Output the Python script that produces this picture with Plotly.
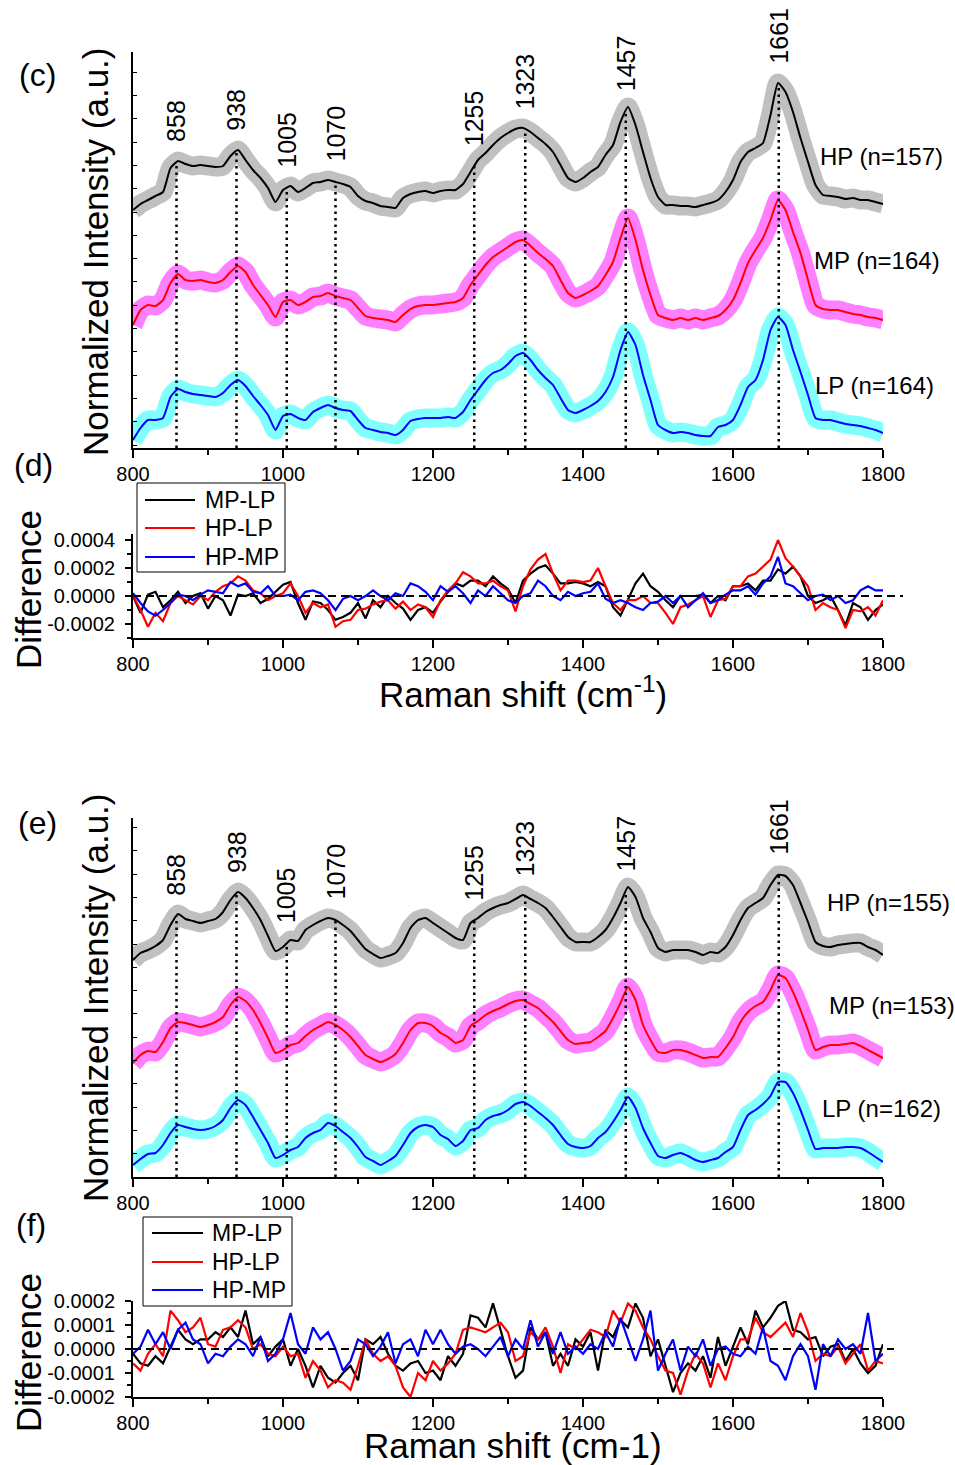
import numpy as np
import plotly.graph_objects as go

W, H = 955, 1465
FONT = "Liberation Sans, Arial, sans-serif"

# ---------------- data ----------------
raman_shift = list(range(800, 1810, 10))

peaks = [858, 938, 1005, 1070, 1255, 1323, 1457, 1661]

# (c) mean spectra, stacked for display (a.u.)
hp_c = [238, 244, 248, 252, 256, 280, 287, 284, 282, 283, 282, 281, 282, 292, 298, 288, 278, 270, 260, 246,
        258, 262, 256, 260, 265, 266, 268, 266, 264, 261, 252, 247, 245, 242, 241, 240, 250, 254, 256, 257,
        255, 257, 258, 258, 264, 276, 288, 295, 303, 310, 315, 319, 320, 316, 310, 304, 296, 283, 270, 266,
        270, 276, 281, 293, 303, 326, 341, 323, 296, 270, 251, 243, 243, 242, 242, 241, 243, 245, 248, 256,
        268, 286, 296, 300, 305, 333, 365, 356, 336, 310, 286, 263, 253, 252, 251, 249, 250, 248, 248, 246,
        244]
mp_c = [123, 138, 143, 142, 148, 165, 174, 168, 167, 168, 166, 165, 168, 176, 182, 176, 163, 153, 143, 131,
        146, 148, 143, 146, 151, 152, 155, 152, 150, 148, 140, 132, 130, 129, 128, 126, 133, 139, 142, 143,
        143, 144, 145, 146, 150, 163, 173, 183, 191, 196, 201, 206, 208, 202, 195, 189, 182, 168, 155, 150,
        153, 157, 162, 173, 186, 210, 230, 208, 178, 153, 133, 130, 128, 130, 128, 130, 128, 130, 132, 138,
        148, 165, 185, 198, 210, 228, 248, 238, 216, 195, 168, 143, 139, 138, 138, 136, 134, 133, 131, 130,
        128]
lp_c = [8, 20, 28, 28, 30, 51, 59, 56, 54, 53, 52, 51, 55, 63, 68, 62, 52, 43, 33, 18,
        32, 34, 30, 28, 36, 40, 43, 40, 38, 37, 28, 20, 18, 16, 15, 13, 18, 27, 29, 30,
        30, 30, 31, 30, 36, 48, 58, 68, 75, 78, 84, 92, 95, 88, 78, 70, 63, 50, 38, 35,
        38, 42, 47, 56, 71, 98, 116, 103, 73, 48, 23, 18, 15, 16, 15, 13, 12, 12, 21, 23,
        28, 43, 61, 68, 88, 118, 131, 123, 98, 76, 53, 30, 28, 28, 26, 24, 23, 22, 20, 18,
        15]

# (d) difference spectra, units of 1e-4
mp_lp_d = [0, -1.2, 0.1, 0.3, -0.8, -0.3, 0.3, -0.5, 0, 0.2, -0.9, 0, -0.3, -1.4, 0.1, 0, 0.2, -0.5, -0.2, 0.3,
           0.8, 1.0, -0.5, -1.7, -0.4, -0.5, -1.0, -1.7, -1.5, -1.2, -0.5, -1.6, -0.3, -0.8, 0, -0.5, -0.9, -1.7, -1.0, -0.8,
           -1.2, -0.4, 0.3, 0.9, 0.7, 1.1, 1.1, 0.7, 1.4, 0.9, 0.5, -0.5, 1.1, 1.6, 2.0, 2.2, 1.6, 0.9, 0.9, 1.0,
           0.9, 0.7, 1.0, 0.7, -0.8, -1.4, -0.3, 0.9, 1.6, 0.7, 0.3, -0.3, -0.8, 0, 0, 0, 0.1, -0.5, 0, -0.3,
           0.7, 0.7, 0.9, 0.4, 1.1, 1.1, 1.9, 1.6, 2.1, 1.4, 0, -0.5, -0.3, 0, -1.0, -2.1, -0.5, -0.8, -1.7, -1.0,
           -0.6]
hp_lp_d = [0, -1.0, -2.2, -1.2, -1.8, -0.5, 0, -0.3, -0.6, 0, -0.3, 0.3, 0.7, 0.9, 1.4, 1.1, 0.4, 0.2, -0.3, 0,
           0.2, 0.9, 0, -1.2, -0.5, -0.8, -0.6, -2.2, -1.8, -1.7, -1.0, -0.9, -0.6, -0.4, -0.3, -0.9, -0.4, -1.0, -0.6, -0.8,
           -1.5, -0.3, 0.4, 0.9, 1.7, 1.4, 0.9, 0.9, 1.1, 0.7, 0.4, -1.1, 0.7, 1.9, 2.6, 3.0, 1.6, 0.4, 1.1, 1.1,
           1.0, 1.1, 2.0, 0.7, -0.5, -1.0, -0.3, -0.3, 0, -0.5, -0.5, -1.2, -2.0, -0.8, -0.6, -0.3, 0, -1.5, -0.3, -0.2,
           0.7, 0.7, 1.4, 1.6, 2.1, 2.6, 4.0, 2.7, 2.1, 1.4, 0.7, -1.0, -0.5, -0.8, -1.0, -2.3, -1.0, -1.1, -0.8, -1.4,
           -0.3]
hp_mp_d = [0.2, -0.5, -1.1, -1.4, -1.0, -0.5, 0.1, 0, -0.3, 0.1, 0.4, 0.3, 0.2, 1.0, 0.7, 0.9, 0.3, 0.2, 0.7, 0,
           0, 0.1, -0.3, 0.3, 0.4, 0.2, -0.3, -1.0, -0.2, 0, -0.3, 0, 0.4, 0, -0.3, 0.2, 0, 0.9, 0.7, 0.3,
           -0.3, 0.7, 0.3, 0.7, 0.2, -0.5, 0.4, 0, 0.7, 0.2, -0.3, -0.5, 0, 0.2, 1.1, 0.7, 0, -0.3, 0.3, 0,
           0.2, 0.3, 0.9, -0.2, -0.5, -0.3, -0.5, -0.8, -1.0, -0.5, -0.4, 0, -0.5, 0, -0.8, -0.3, 0.2, -0.5, -0.3, 0.1,
           0.4, 0.4, 0.7, 0.1, 0.9, 1.4, 2.8, 0.9, 0.7, 0.2, -0.3, 0, 0.1, -0.3, 0, -0.5, -0.3, 0.4, 0.7, 0.4,
           0.4]

# (e) mean spectra, stacked for display (a.u.)
hp_e = [217, 224, 227, 231, 237, 252, 263, 258, 256, 254, 256, 258, 265, 277, 285, 279, 269, 257, 241, 226,
        230, 237, 236, 247, 252, 256, 259, 257, 252, 246, 237, 228, 223, 219, 221, 224, 234, 249, 257, 259,
        254, 249, 244, 239, 237, 254, 259, 265, 269, 272, 274, 278, 282, 278, 274, 269, 260, 250, 240, 235,
        235, 235, 240, 247, 259, 274, 290, 280, 259, 245, 229, 225, 227, 227, 227, 225, 222, 225, 224, 230,
        242, 257, 269, 274, 279, 292, 302, 301, 292, 274, 255, 235, 231, 230, 232, 233, 234, 234, 230, 227,
        222]
mp_e = [114, 122, 126, 125, 135, 149, 155, 154, 152, 150, 152, 155, 160, 172, 180, 176, 167, 154, 139, 124,
        127, 132, 134, 141, 147, 151, 155, 152, 147, 140, 131, 122, 118, 115, 118, 123, 134, 147, 154, 154,
        151, 144, 140, 134, 137, 151, 156, 162, 166, 169, 173, 176, 177, 173, 169, 162, 155, 146, 137, 133,
        134, 135, 140, 146, 159, 174, 190, 177, 152, 137, 125, 124, 127, 127, 125, 122, 119, 120, 120, 129,
        140, 155, 165, 171, 175, 187, 202, 199, 185, 167, 147, 127, 130, 132, 132, 133, 134, 131, 127, 123,
        119]
lp_e = [12, 18, 23, 24, 32, 44, 52, 50, 48, 47, 48, 51, 57, 69, 77, 72, 60, 47, 34, 19,
        22, 27, 30, 39, 44, 47, 54, 51, 45, 39, 30, 20, 16, 12, 16, 21, 32, 44, 50, 52,
        50, 42, 38, 31, 36, 47, 49, 57, 61, 63, 67, 73, 75, 71, 65, 59, 52, 42, 33, 30,
        29, 31, 39, 45, 55, 67, 80, 69, 49, 34, 21, 19, 22, 24, 21, 17, 15, 17, 19, 25,
        30, 47, 62, 67, 73, 81, 95, 95, 84, 67, 47, 28, 29, 29, 29, 30, 30, 29, 25, 20,
        15]

# (f) difference spectra, units of 1e-4
mp_lp_f = [-0.2, -0.6, -0.7, -0.3, -0.6, 0.1, 0.8, 0.4, 0.2, 0.4, 0.4, 0.7, 0.5, 0.9, 0.5, 1.6, 0.2, 0.5, -0.3, 0.1,
           0.4, -0.7, 0, -0.7, -1.6, -0.7, -1.2, -1.4, -1.0, -0.7, -1.3, 0.4, 0.2, 0.5, -0.2, -0.7, -0.9, -0.6, -0.5, -1.0,
           -0.9, -1.3, -0.3, -0.7, -0.2, 1.4, 1.3, 0.9, 1.9, 0.8, -0.3, -1.2, -0.9, 0.9, 0.4, 0.7, -0.7, -0.2, -0.7, 0.4,
           0.1, 0.7, -0.9, 0.8, 0.5, 1.2, 0.9, 1.9, 1.3, -0.3, 0.4, -0.7, -1.8, -1.0, -0.6, -0.9, -0.3, -1.2, 0.5, -0.7,
           0.1, 0.9, 0.2, 1.6, 0.9, 1.3, 1.8, 2.0, 0.8, 0.7, 0.4, 0.5, -0.3, 0.1, 0.2, -0.5, 0, -0.6, -1.0, -0.7,
           0.2]
hp_lp_f = [-0.6, -0.9, -0.2, 0.2, -0.3, 1.6, 1.2, 0.7, 0.9, 1.3, 0.2, 0.1, 0.8, 0.9, 1.2, 0.9, 0, 0.2, -0.2, -0.3,
           0.1, -0.3, -0.2, -1.2, -0.5, -0.9, -1.6, -1.3, -1.4, -1.7, -0.7, 0.4, -0.2, -0.5, -0.3, -0.7, -1.6, -2.0, -1.0, -1.3,
           -0.5, -0.9, -0.6, -0.2, 0.8, 0.9, 0.8, 0.7, 0.9, 1.1, 0.7, -0.5, -0.3, 0.7, 0.4, 0.9, 0.1, -1.0, 0.2, 0,
           0.4, 0.8, 0.7, 0.5, 1.6, 1.1, 1.9, 1.6, 0.9, 0.4, -0.3, -0.9, -1.0, -1.9, -0.9, -0.2, -0.6, -1.6, -0.6, -1.3,
           -0.3, 0.4, 0.4, 1.3, 0.7, 0.5, 0.8, 1.1, 0.5, 1.5, 0.7, -0.5, -0.2, -0.3, 0.1, -0.6, -0.2, 0.2, -0.9, -0.5,
           -0.6]
hp_mp_f = [-0.2, 0.1, 0.8, 0.2, 0.7, 0, 0.8, 1.1, 0.4, 0.2, -0.6, -0.2, -0.3, 0.1, 0.4, 0.2, -0.3, 0.5, -0.5, -0.2,
           0.4, 1.5, 0.2, -0.2, 0.9, 0.4, 0.7, 0, -0.9, -0.5, 0.4, 0.2, -0.3, 0.1, 0.7, -0.6, 0.2, 0.4, -0.3, 0.8,
           0.2, 0.8, 0.2, -0.2, 0.1, 0.2, 0, -0.3, 0.1, 0.5, -0.3, 0.4, 0, 1.2, 0.1, 0.7, -0.2, 0.7, -0.2, 0.1,
           -0.2, 0.2, 0, 0.7, 0.1, 1.3, 0.4, -0.5, 0.4, 1.6, -0.9, -0.2, 0.4, -0.9, 0.1, -0.3, 0.4, -0.7, 0, 0.1,
           -0.2, -0.3, 0.1, -0.2, 0.9, -0.5, -0.7, -1.3, -0.3, 0.2, -0.3, -1.7, 0.2, -0.3, 0.4, 0, 0.2, -0.2, 1.5, -0.5,
           -0.2]

# group names shown next to the stacked spectra
groups_c = ["HP (n=157)", "MP (n=164)", "LP (n=164)"]
groups_e = ["HP (n=155)", "MP (n=153)", "LP (n=162)"]
diff_names = ["MP-LP", "HP-LP", "HP-MP"]

# ---------------- styling ----------------
line_colors = ["#000000", "#ff0000", "#0000ff"]
band_colors = ["#c0c0c0", "#ff80ff", "#80ffff"]


def fx(px):
    return px / W


def fy(py):
    return 1 - py / H


fig = go.Figure()

# stacked spectra with their spread band
for xa, ya, series in (("x", "y", (hp_c, mp_c, lp_c)), ("x3", "y3", (hp_e, mp_e, lp_e))):
    for s, lc, bc in zip(series, line_colors, band_colors):
        fig.add_trace(go.Scatter(x=raman_shift, y=s, xaxis=xa, yaxis=ya, mode="lines",
                                 line=dict(color=bc, width=19, shape="spline", smoothing=0.5),
                                 showlegend=False, hoverinfo="skip"))
        fig.add_trace(go.Scatter(x=raman_shift, y=s, xaxis=xa, yaxis=ya, mode="lines",
                                 line=dict(color=lc, width=2, shape="spline", smoothing=0.5),
                                 showlegend=False))

# difference spectra
for xa, ya, series in (("x2", "y2", (mp_lp_d, hp_lp_d, hp_mp_d)),
                       ("x4", "y4", (mp_lp_f, hp_lp_f, hp_mp_f))):
    for s, lc, nm in zip(series, line_colors, diff_names):
        fig.add_trace(go.Scatter(x=raman_shift, y=np.array(s) * 1e-4, xaxis=xa, yaxis=ya, mode="lines",
                                 name=nm, showlegend=False, line=dict(color=lc, width=2.2)))

xdom = [fx(133), fx(883)]
xcommon = dict(range=[800, 1800], domain=xdom, showline=True, linecolor="black", linewidth=2,
               showgrid=False, zeroline=False, ticks="outside", ticklen=8, tickwidth=2, tickcolor="black",
               tick0=800, dtick=200, tickfont=dict(family=FONT, size=20, color="black"),
               ticklabelstandoff=-1,
               minor=dict(ticks="outside", ticklen=5, tickwidth=2, tickcolor="black", dtick=100, tick0=800,
                          showgrid=False))
yspec = dict(showline=True, linecolor="black", linewidth=2, showgrid=False, zeroline=False,
             showticklabels=False, ticks="inside", ticklen=4, tickwidth=1, tickcolor="black", dtick=23.3)
ydiff = dict(showline=True, linecolor="black", linewidth=2, showgrid=False, zeroline=False,
             ticks="outside", ticklen=6, tickwidth=2, tickcolor="black",
             tickfont=dict(family=FONT, size=20, color="black"), ticklabelstandoff=6,
             minor=dict(ticks="outside", ticklen=4, tickwidth=2, tickcolor="black", showgrid=False))

d_ticks = [-2e-4, 0, 2e-4, 4e-4]
f_ticks = [-2e-4, -1e-4, 0, 1e-4, 2e-4]

fig.update_layout(
    width=W, height=H, autosize=False, showlegend=False,
    margin=dict(l=0, r=0, t=0, b=0, pad=0, autoexpand=False),
    paper_bgcolor="white", plot_bgcolor="white",
    font=dict(family=FONT, color="black"),
    xaxis=dict(**xcommon, anchor="y"),
    yaxis=dict(**yspec, anchor="x", domain=[fy(448), fy(52)], range=[0, 396], tick0=26.3),
    xaxis2=dict(**xcommon, anchor="y2"),
    yaxis2=dict(**ydiff, anchor="x2", domain=[fy(638), fy(534)], range=[-3.0e-4, 4.43e-4],
                tickmode="array", tickvals=d_ticks, ticktext=["-0.0002", "0.0000", "0.0002", "0.0004"]),
    xaxis3=dict(**xcommon, anchor="y3"),
    yaxis3=dict(**yspec, anchor="x3", domain=[fy(1177), fy(818)], range=[0, 359], tick0=23.3),
    xaxis4=dict(**xcommon, anchor="y4"),
    yaxis4=dict(**ydiff, anchor="x4", domain=[fy(1397), fy(1301)], range=[-2e-4, 2e-4],
                tickmode="array", tickvals=f_ticks,
                ticktext=["-0.0002", "-0.0001", "0.0000", "0.0001", "0.0002"]),
)
fig.update_layout(yaxis2_minor_dtick=1e-4, yaxis2_minor_tick0=0,
                  yaxis4_minor_dtick=0.5e-4, yaxis4_minor_tick0=0)

shapes = []
annotations = []

# dotted peak markers with rotated wavenumber labels
for xa, ya, top in (("x", "y", hp_c), ("x3", "y3", hp_e)):
    for p in peaks:
        h = float(np.interp(p, raman_shift, top))
        shapes.append(dict(type="line", xref=xa, yref=ya, x0=p, x1=p, y0=0, y1=h, layer="above",
                           line=dict(color="black", width=2.5, dash="2.5px,4px")))
        annotations.append(dict(x=p, y=h, xref=xa, yref=ya, text=str(p), textangle=-90, showarrow=False,
                                xanchor="center", yanchor="bottom", yshift=18,
                                font=dict(family=FONT, size=25, color="black")))

# dashed zero reference in the difference panels
for ya, xend in (("y2", 903), ("y4", 894)):
    shapes.append(dict(type="line", xref="paper", yref=ya, x0=fx(133), x1=fx(xend),
                       y0=0, y1=0, layer="above", line=dict(color="black", width=2, dash="8px,5px")))

# boxed keys for the difference panels
for (bx0, by0, bx1, by1), rows, (lx0, lx1, tx) in (((137, 483, 285, 572), (500, 528, 557), (145, 195, 203)),
                                                  ((143, 1217, 292, 1306), (1233, 1262, 1290), (152, 203, 210))):
    shapes.append(dict(type="rect", xref="paper", yref="paper", x0=fx(bx0), x1=fx(bx1), y0=fy(by1), y1=fy(by0),
                       fillcolor="white", line=dict(color="black", width=1), layer="above"))
    for nm, lc, ry in zip(diff_names, line_colors, rows):
        shapes.append(dict(type="line", xref="paper", yref="paper", x0=fx(lx0), x1=fx(lx1), y0=fy(ry), y1=fy(ry),
                           line=dict(color=lc, width=2.2), layer="above"))
        annotations.append(dict(x=fx(tx), y=fy(ry), xref="paper", yref="paper", text=nm, showarrow=False,
                                xanchor="left", yanchor="middle", font=dict(family=FONT, size=23, color="black")))

# group labels beside the stacked spectra
for names, spots in ((groups_c, [(818, 157), (812, 261), (813, 385)]),
                     (groups_e, [(825, 902), (827, 1005), (820, 1108)])):
    for nm, (gx, gy) in zip(names, spots):
        annotations.append(dict(x=fx(gx), y=fy(gy), xref="paper", yref="paper", text=nm, showarrow=False,
                                xanchor="left", yanchor="middle", font=dict(family=FONT, size=24, color="black")))

# panel letters
for t, (gx, gy) in zip(["(c)", "(d)", "(e)", "(f)"], [(37, 75), (33, 465), (37, 823), (31, 1225)]):
    annotations.append(dict(x=fx(gx), y=fy(gy), xref="paper", yref="paper", text=t, showarrow=False,
                            xanchor="center", yanchor="middle", font=dict(family=FONT, size=32, color="black")))

# axis titles
title_font = dict(family=FONT, size=35, color="black")
for t, (gx, gy), ang in (("Normalized Intensity (a.u.)", (95, 252), -90),
                         ("Normalized Intensity (a.u.)", (95, 998), -90),
                         ("Difference", (28, 590), -90),
                         ("Difference", (28, 1353), -90),
                         ("Raman shift (cm<sup>-1</sup>)", (523, 692), 0),
                         ("Raman shift (cm-1)", (513, 1445), 0)):
    annotations.append(dict(x=fx(gx), y=fy(gy), xref="paper", yref="paper", text=t, textangle=ang,
                            showarrow=False, xanchor="center", yanchor="middle", font=title_font))

fig.update_layout(shapes=shapes, annotations=annotations)

fig.write_html("out.html", config={"responsive": False, "displayModeBar": False},
               post_script="document.body.style.margin='0';document.body.style.overflow='hidden';")
